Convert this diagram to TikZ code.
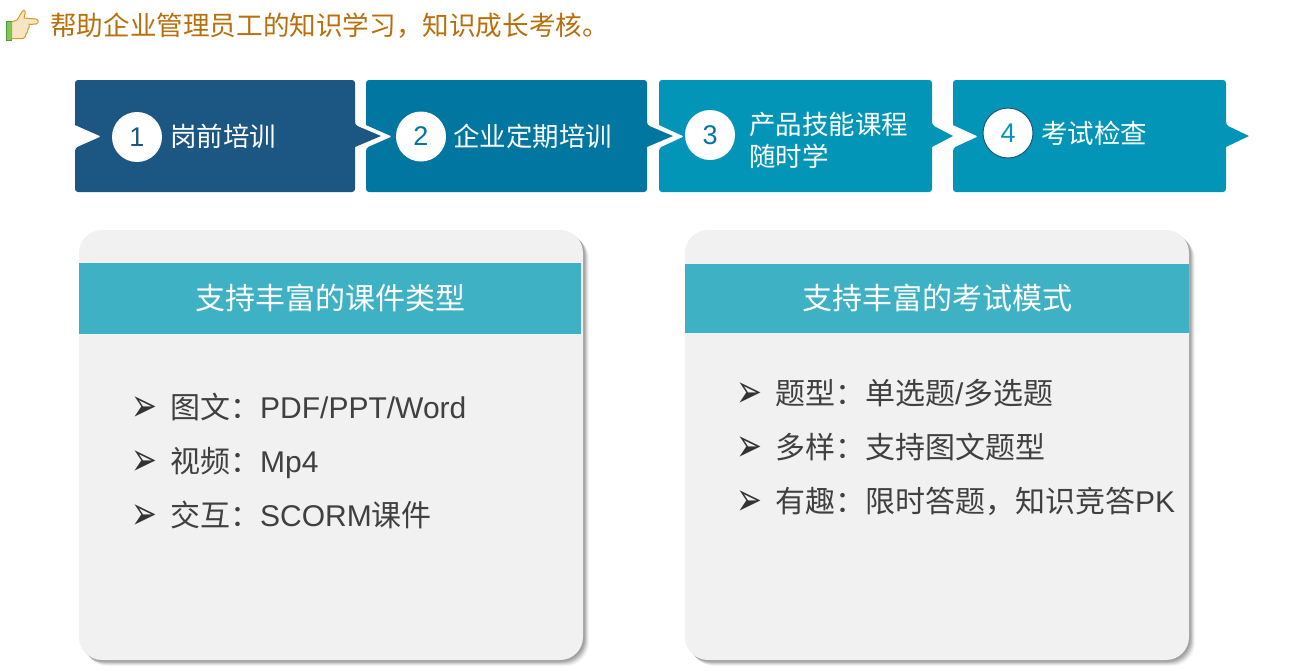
\documentclass[tikz,border=0pt]{standalone}
\usepackage{fontspec}
\setmainfont{Liberation Sans}
\newfontfamily\cjk{Noto Sans CJK SC}
\newfontfamily\dejavu{DejaVu Sans}
\definecolor{titlec}{HTML}{B96F0C}
\definecolor{boxa}{HTML}{1C5682}
\definecolor{boxb}{HTML}{0076A0}
\definecolor{boxc}{HTML}{0295B7}
\definecolor{band}{HTML}{3EB1C4}
\definecolor{card}{HTML}{F1F1F1}
\definecolor{ink}{HTML}{404040}
\definecolor{cuff}{HTML}{7CC95A}
\definecolor{cuffline}{HTML}{4C9A3A}
\definecolor{skin}{HTML}{F6E4C2}
\definecolor{skinline}{HTML}{D99A2B}
\newcommand{\chevron}[6]{% left,right,top,bottom,notch tip,point tip
  \fill[#6,rounded corners=3pt] (#1,80) -- (#2,80) -- (#2,125) [sharp corners] -- (#5,136) -- (#2,147) [rounded corners=3pt] -- (#2,192) -- (#1,192) -- (#1,148) [rounded corners=1.5pt] -- (#4,136.5) [sharp corners] -- (#1,125) [rounded corners=3pt] -- cycle;}
\newcommand{\cardbox}[2]{%
  \foreach \o/\a in {6/.04,5/.06,4/.08,3/.10,2/.10,1/.05}
    \fill[black,opacity=\a,rounded corners=23pt] (#1+\o,230+\o) rectangle (#2+\o,660+\o);
  \fill[card,rounded corners=23pt] (#1,230) rectangle (#2,660);}
\tikzset{
  numdisc/.style={circle,fill=white,minimum size=50pt,inner sep=0pt,font=\fontsize{27}{27}\selectfont},
  steptext/.style={anchor=base west,inner sep=0pt,text=white,font=\cjk\fontsize{26.5}{32}\selectfont},
  headtext/.style={inner sep=0pt,text=white,font=\cjk\fontsize{30}{30}\selectfont},
  itemtext/.style={anchor=base west,inner sep=0pt,text=ink,font=\fontsize{30}{30}\selectfont},
  bulletmark/.style={anchor=center,inner sep=0pt,text=ink!80!black,yscale=1.5,font=\dejavu\fontsize{31}{31}\selectfont},
}
\begin{document}
\begin{tikzpicture}[x=1pt,y=-1pt]
\useasboundingbox (0,0) rectangle (1300,670);
% hand icon
\fill[white] (0,0) rectangle (1300,670);
\fill[cuff,draw=cuffline,line width=.5pt] (6.5,21) rectangle (11.5,40);
\draw[fill=skin,draw=skinline,line width=1pt,line join=round]
  (11.5,22) -- (17,20) .. controls (20,16) and (21,12) .. (24,10) .. controls (26,11) and (25,15) .. (24,18)
  -- (36,19) .. controls (39,20) and (39,23) .. (36,24) -- (29,24.5) .. controls (30,27) and (29,28) .. (28,29)
  .. controls (28,32) and (27,33) .. (26,34) .. controls (26,36) and (25,38) .. (23,38.5) -- (11.5,38.5) -- cycle;
\node[anchor=base west,inner sep=0pt,text=titlec,font=\cjk\fontsize{26.6}{26.6}\selectfont] (title) at (50,35) {帮助企业管理员工的知识学习，知识成长考核。};
% chevrons
\chevron{75}{355}{0}{101}{381}{boxa}
\chevron{366}{647}{0}{392}{673}{boxb}
\chevron{659}{932}{0}{684}{953}{boxc}
\chevron{953}{1226}{0}{978}{1249}{boxc}
\node[numdisc,text=boxa] (n1) at (137,137) {1};
\node[numdisc,text=boxb] (n2) at (421,136.5) {2};
\node[numdisc,text=boxb] (n3) at (710,135) {3};
\node[numdisc,text=boxc,draw=boxa,line width=1pt] (n4) at (1008,133) {4};
\node[steptext] (s1) at (170,146) {岗前培训};
\node[steptext] (s2) at (453,146) {企业定期培训};
\node[steptext,align=left,anchor=north west] (s3) at (749,111.5) {产品技能课程\\随时学};
\node[steptext] (s4) at (1041,143) {考试检查};
% cards
\cardbox{79}{583}
\cardbox{685}{1189}
\fill[band] (79,263) rectangle (581,334);
\fill[band] (685,264) rectangle (1189,333);
\node[headtext] (h1) at (330.5,298) {支持丰富的课件类型};
\node[headtext] (h2) at (937.5,298) {支持丰富的考试模式};
\node[bulletmark] (b1) at (144,409) {➢};
\node[bulletmark] (b2) at (144,463) {➢};
\node[bulletmark] (b3) at (144,517) {➢};
\node[itemtext] (i1) at (170,418) {{\cjk 图文：}PDF/PPT/Word};
\node[itemtext] (i2) at (170,472) {{\cjk 视频：}Mp4};
\node[itemtext] (i3) at (170,526) {{\cjk 交互：}SCORM{\cjk 课件}};
\node[bulletmark] (b4) at (749,395) {➢};
\node[bulletmark] (b5) at (749,449) {➢};
\node[bulletmark] (b6) at (749,503) {➢};
\node[itemtext] (i4) at (775,404) {{\cjk 题型：单选题}/{\cjk 多选题}};
\node[itemtext] (i5) at (775,458) {{\cjk 多样：支持图文题型}};
\node[itemtext] (i6) at (775,512) {{\cjk 有趣：限时答题，知识竞答}PK};
\end{tikzpicture}
\end{document}
